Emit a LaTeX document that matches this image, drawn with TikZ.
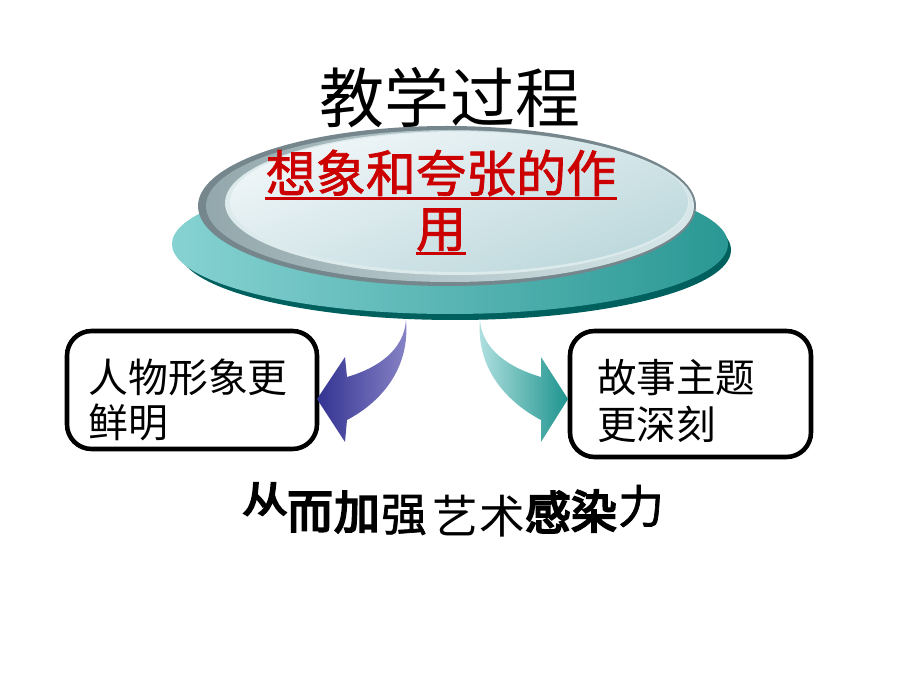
\documentclass[tikz,border=0pt]{standalone}
\usepackage{fontspec}
\newfontfamily\cjk{Noto Sans CJK SC}
\newfontfamily\cjkfb[FakeBold=4.5]{Noto Sans CJK SC}
\newfontfamily\cjkfm[FakeBold=1.5]{Noto Sans CJK SC}
\usetikzlibrary{shapes.geometric}
\definecolor{tealdark}{HTML}{00605E}
\definecolor{tealmid}{HTML}{2A9894}
\definecolor{teallight}{HTML}{86D2D2}
\definecolor{rimdark}{HTML}{75878C}
\definecolor{bandL}{HTML}{93A8AC}
\definecolor{bandR}{HTML}{D8E8EA}
\definecolor{ringc}{HTML}{DDEAEC}
\definecolor{discA}{HTML}{F0F6F8}
\definecolor{discB}{HTML}{BCD8DC}
\definecolor{redtxt}{HTML}{CC0000}
\definecolor{arrblueD}{HTML}{333392}
\definecolor{arrblueL}{HTML}{8A86C8}
\definecolor{arrtealD}{HTML}{1E948E}
\definecolor{arrtealL}{HTML}{B4E2E2}
\tikzset{
  txt/.style={inner sep=0pt, font=\cjk},
  boxstyle/.style={draw=black, line width=2.6pt, rounded corners=14pt},
  wa/.style={inner sep=0pt, font=\cjk\fontsize{26}{26}\selectfont},
  wam/.style={inner sep=0pt, font=\cjkfm\fontsize{26}{26}\selectfont},
  wab/.style={inner sep=0pt, font=\cjkfb\fontsize{26}{26}\selectfont}
}
\begin{document}
\begin{tikzpicture}[x=0.02cm,y=-0.02cm]
\useasboundingbox (0,0) rectangle (900,675);
% title
\node[txt, font=\cjk\fontsize{37}{37}\selectfont] (title) at (450,98) {教学过程};
% base ellipse
\fill[tealdark] (455,250) ellipse [x radius=276, y radius=70];
\shade[left color=teallight, right color=tealmid] (450,244) ellipse [x radius=278, y radius=70];
% gray disc
\fill[rimdark] (447,206) ellipse [x radius=249, y radius=80];
\shade[left color=bandL, right color=bandR] (450,206) ellipse [x radius=244, y radius=76];
\fill[ringc] (457,203) ellipse [x radius=232, y radius=72];
\shade[top color=discA, bottom color=discB, shading angle=20] (459,202) ellipse [x radius=229, y radius=70];
% red text
\node[txt, text=redtxt, font=\cjkfm\fontsize{28.5}{28.5}\selectfont] (l1) at (441,173) {想象和夸张的作};
\node[txt, text=redtxt, font=\cjkfm\fontsize{28.5}{28.5}\selectfont] (l2) at (441,230) {用};
\draw[redtxt, line width=1.4pt] ([yshift=-1pt]l1.south west) -- ([yshift=-1pt]l1.south east);
\draw[redtxt, line width=1.4pt] ([yshift=-1pt]l2.south west) -- ([yshift=-1pt]l2.south east);
% boxes
\draw[boxstyle] (67,331) rectangle (317,449);
\node[inner sep=0pt, minimum width=250*0.02cm, minimum height=118*0.02cm] (lbox) at (192,390) {};
\draw[boxstyle] (570,331) rectangle (811,457);
\node[inner sep=0pt, minimum width=241*0.02cm, minimum height=126*0.02cm] (rbox) at (690.5,394) {};
\node[txt, anchor=west, align=left, font=\cjk\fontsize{22.7}{26}\selectfont] (ltext) at (88,400) {人物形象更\\鲜明};
\node[txt, anchor=west, align=left, font=\cjk\fontsize{22.5}{27.2}\selectfont] (rtext) at (597,401) {故事主题\\更深刻};
% left arrow
\shade[left color=arrblueD, right color=arrblueL]
  (406,320) .. controls (404,350) and (378,368) .. (347,377)
  -- (345,357) -- (317,399) -- (345,442) -- (347,420)
  .. controls (385,400) and (410,365) .. (406,320) -- cycle;
% right arrow
\shade[left color=arrtealL, right color=arrtealD]
  (480,320) .. controls (482,350) and (510,368) .. (541,377)
  -- (541,357) -- (568,399) -- (541,442) -- (541,420)
  .. controls (503,400) and (476,365) .. (480,320) -- cycle;
% bottom WordArt text
\node[wab, yscale=0.8] (w1) at (265,499) {从};
\node[wab] (w2) at (310,512) {而};
\node[wab] (w3) at (357,512) {加};
\node[wam] (w4) at (404,515) {强};
\node[wa] (w5) at (455,516) {艺};
\node[wa] (w6) at (502,516) {术};
\node[wab] (w7) at (548,512) {感};
\node[wab] (w8) at (594,511) {染};
\node[wam] (w9) at (641,506) {力};
\end{tikzpicture}
\end{document}
